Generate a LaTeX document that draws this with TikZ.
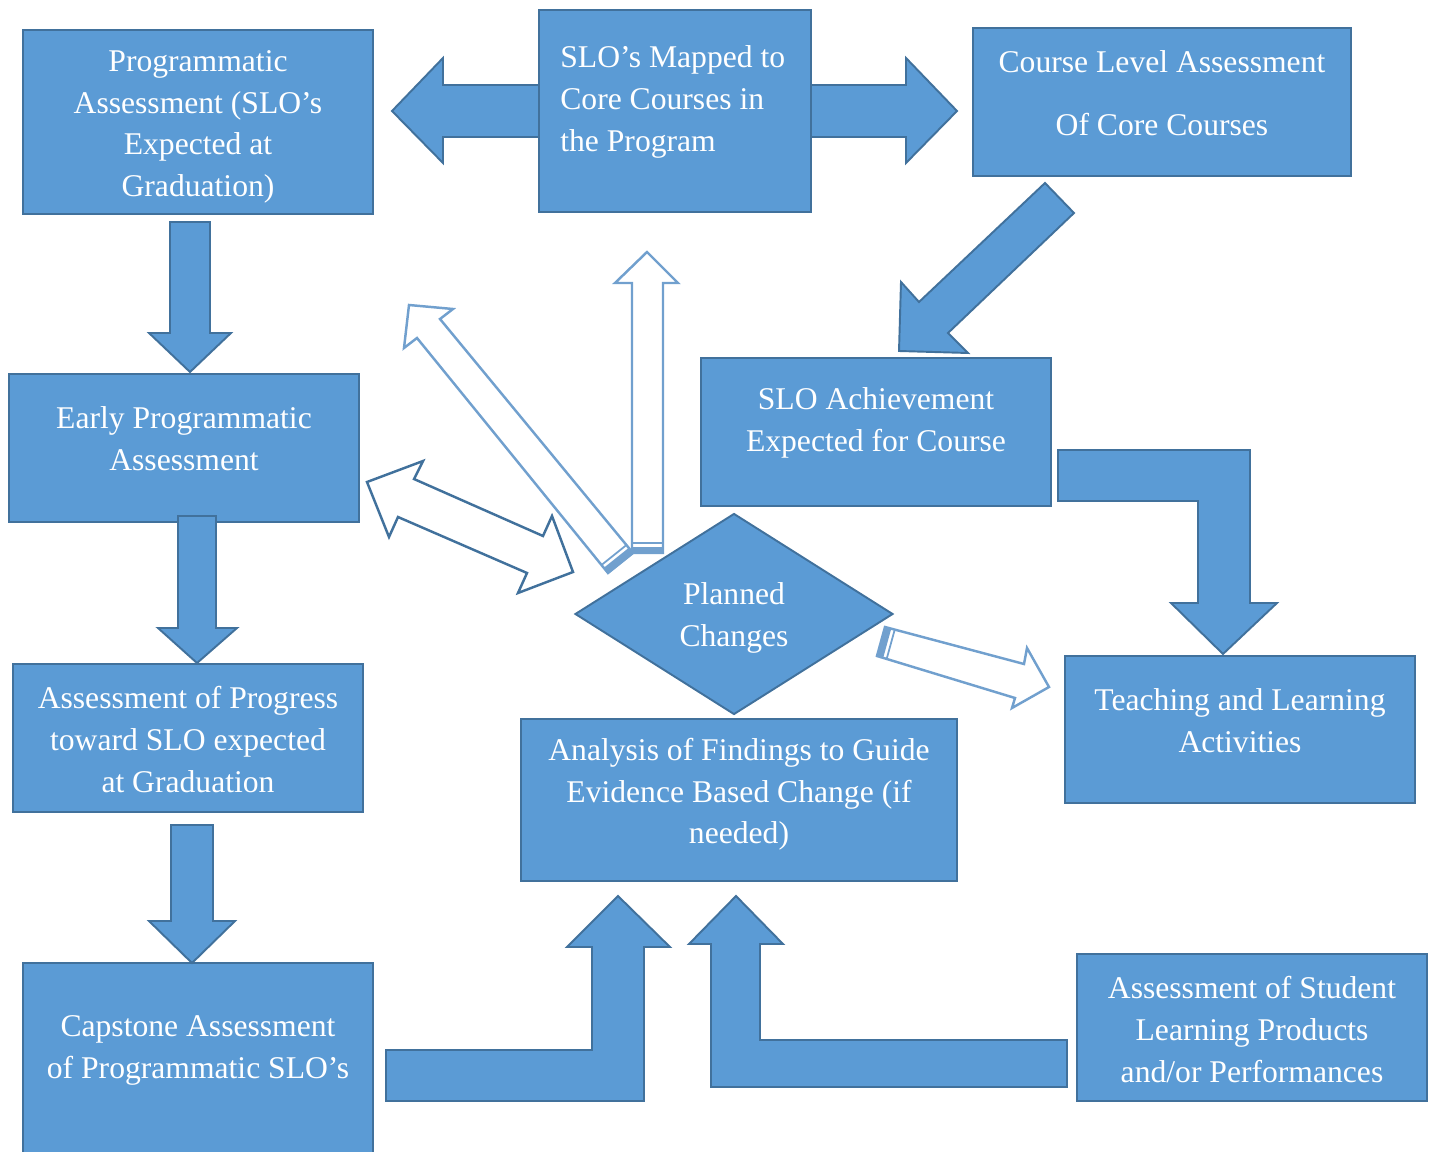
\documentclass[tikz,border=0pt]{standalone}
\usepackage{fontspec}
\setmainfont{Liberation Serif}
\usetikzlibrary{shapes.geometric, calc}

\definecolor{boxfill}{HTML}{5B9BD5}
\definecolor{boxline}{HTML}{41719C}
\definecolor{thinline}{RGB}{113,160,206}
\newcommand{\lbfont}{\fontsize{18}{23.8}\selectfont}

\tikzset{
  blk/.style={draw=boxline, fill=boxfill, line width=1.1pt, minimum width=7cm,
              minimum height=2.96cm, inner sep=0pt},
  lbl/.style={text=white, font=\lbfont, align=center, inner sep=0pt, yshift=-1.9pt},
  fat/.style={draw=boxline, fill=boxfill, line width=1.1pt, line join=miter},
  hollow/.style={draw=thinline, line width=1.4pt, line join=miter},
}

\begin{document}
\begin{tikzpicture}[x=0.02cm, y=-0.02cm]
\useasboundingbox (0,0) rectangle (1434,1152);
\clip (0,0) rectangle (1434,1152);

% left/right arrow behind the mapping box
\draw[fat] (392,111) -- (443,58) -- (443,85) -- (906,85) -- (906,58) -- (957,111)
  -- (906,163) -- (906,137) -- (443,137) -- (443,163) -- cycle;

% boxes
\node[blk, minimum height=3.68cm] (prog) at (198,122) {};
\node[blk, minimum width=5.44cm, minimum height=4.04cm] (map) at (675,111) {};
\node[blk, minimum width=7.56cm] (course) at (1162,102) {};
\node[blk] (achieve) at (876,432) {};
\node[blk, minimum height=2.94cm] (teach) at (1240,729.5) {};
\node[blk] (early) at (184,448) {};
\node[blk] (progress) at (188,738) {};
\node[blk, minimum height=3.88cm] (capstone) at (198,1060) {};
\node[blk, minimum width=8.72cm, minimum height=3.24cm] (analysis) at (739,800) {};
\node[blk, minimum height=2.94cm] (student) at (1252,1027.5) {};
\node[diamond, draw=boxline, fill=boxfill, line width=1.1pt, inner sep=0pt,
      minimum width=6.36cm, minimum height=4.02cm] (plan) at (734,614) {};

% box texts
\node[lbl] (prog-t) at (198,123.5) {Programmatic\\Assessment (SLO’s\\Expected at\\Graduation)};
\node[lbl, align=left, anchor=west] (map-t) at (560,98.5) {SLO’s Mapped to\\Core Courses in\\the Program};
\node[lbl, font=\fontsize{18}{36}\selectfont] (course-t) at (1162,90) {Course Level Assessment\\Of Core Courses};
\node[lbl] (achieve-t) at (876,419.5) {SLO Achievement\\Expected for Course};
\node[lbl] (teach-t) at (1240,717.5) {Teaching and Learning\\Activities};
\node[lbl] (early-t) at (184,435.5) {Early Programmatic\\Assessment};
\node[lbl] (progress-t) at (188,736) {Assessment of Progress\\toward SLO expected\\at Graduation};
\node[lbl] (capstone-t) at (198,1047.5) {Capstone Assessment\\of Programmatic SLO’s};
\node[lbl] (analysis-t) at (739,791) {Analysis of Findings to Guide\\Evidence Based Change (if\\needed)};
\node[lbl] (student-t) at (1252,1026) {Assessment of Student\\Learning Products\\and/or Performances};
\node[lbl] (plan-t) at (734,614.5) {Planned\\Changes};

% block arrows
\draw[fat] (170,222) -- (210,222) -- (210,333) -- (231,333) -- (190,372) -- (149,333) -- (170,333) -- cycle;
\draw[fat] (178,516) -- (216,516) -- (216,628) -- (237,628) -- (197,663) -- (158,628) -- (178,628) -- cycle;
\draw[fat] (171,825) -- (213,825) -- (213,921) -- (235,921) -- (192,963) -- (149,921) -- (171,921) -- cycle;
\draw[fat] (1045,183) -- (1074,213) -- (948,333) -- (968,353) -- (899,351) -- (901,282) -- (919,302) -- cycle;
\draw[fat] (1058,450) -- (1250,450) -- (1250,603) -- (1277,603) -- (1223,654) -- (1171,603)
  -- (1198,603) -- (1198,501) -- (1058,501) -- cycle;
\draw[fat] (386,1050) -- (592,1050) -- (592,947) -- (567,947) -- (618,896) -- (670,947)
  -- (644,947) -- (644,1101) -- (386,1101) -- cycle;
\draw[fat] (1067,1040) -- (760,1040) -- (760,944) -- (783,944) -- (736,896) -- (689,944)
  -- (711,944) -- (711,1087) -- (1067,1087) -- cycle;

% outlined arrows round the planned changes
\draw[hollow] (632,553) -- (632,283) -- (615,283) -- (647,252) -- (678,283) -- (663,283) -- (663,553) -- cycle;
\fill[thinline] (632,553) rectangle (663,547);
\draw[thinline, line width=1pt] (632,543) -- (663,543);

\draw[hollow] (409,305) -- (453,309) -- (440,319) -- (633,553) -- (608,573) -- (417,338) -- (404,348) -- cycle;
\fill[thinline] (633,553) -- (608,573) -- ($(608,573)!0.022!(417,338)$) -- ($(633,553)!0.022!(440,319)$) -- cycle;
\draw[thinline, line width=1pt] ($(633,553)!0.034!(440,319)$) -- ($(608,573)!0.034!(417,338)$);

\draw[hollow] (885,627) -- (1024,664) -- (1027,648) -- (1049,687) -- (1012,708) -- (1015,698) -- (877,656) -- cycle;
\fill[thinline] (885,627) -- (877,656) -- ($(877,656)!0.045!(1015,698)$) -- ($(885,627)!0.045!(1024,664)$) -- cycle;
\draw[thinline, line width=1pt] ($(885,627)!0.07!(1024,664)$) -- ($(877,656)!0.07!(1015,698)$);

\draw[draw=boxline, line width=1.4pt, line join=miter] (367,482) -- (423,461) -- (414,479) -- (543,536) -- (552,516)
  -- (573,572) -- (518,593) -- (527,573) -- (398,517) -- (389,537) -- cycle;
\end{tikzpicture}
\end{document}
